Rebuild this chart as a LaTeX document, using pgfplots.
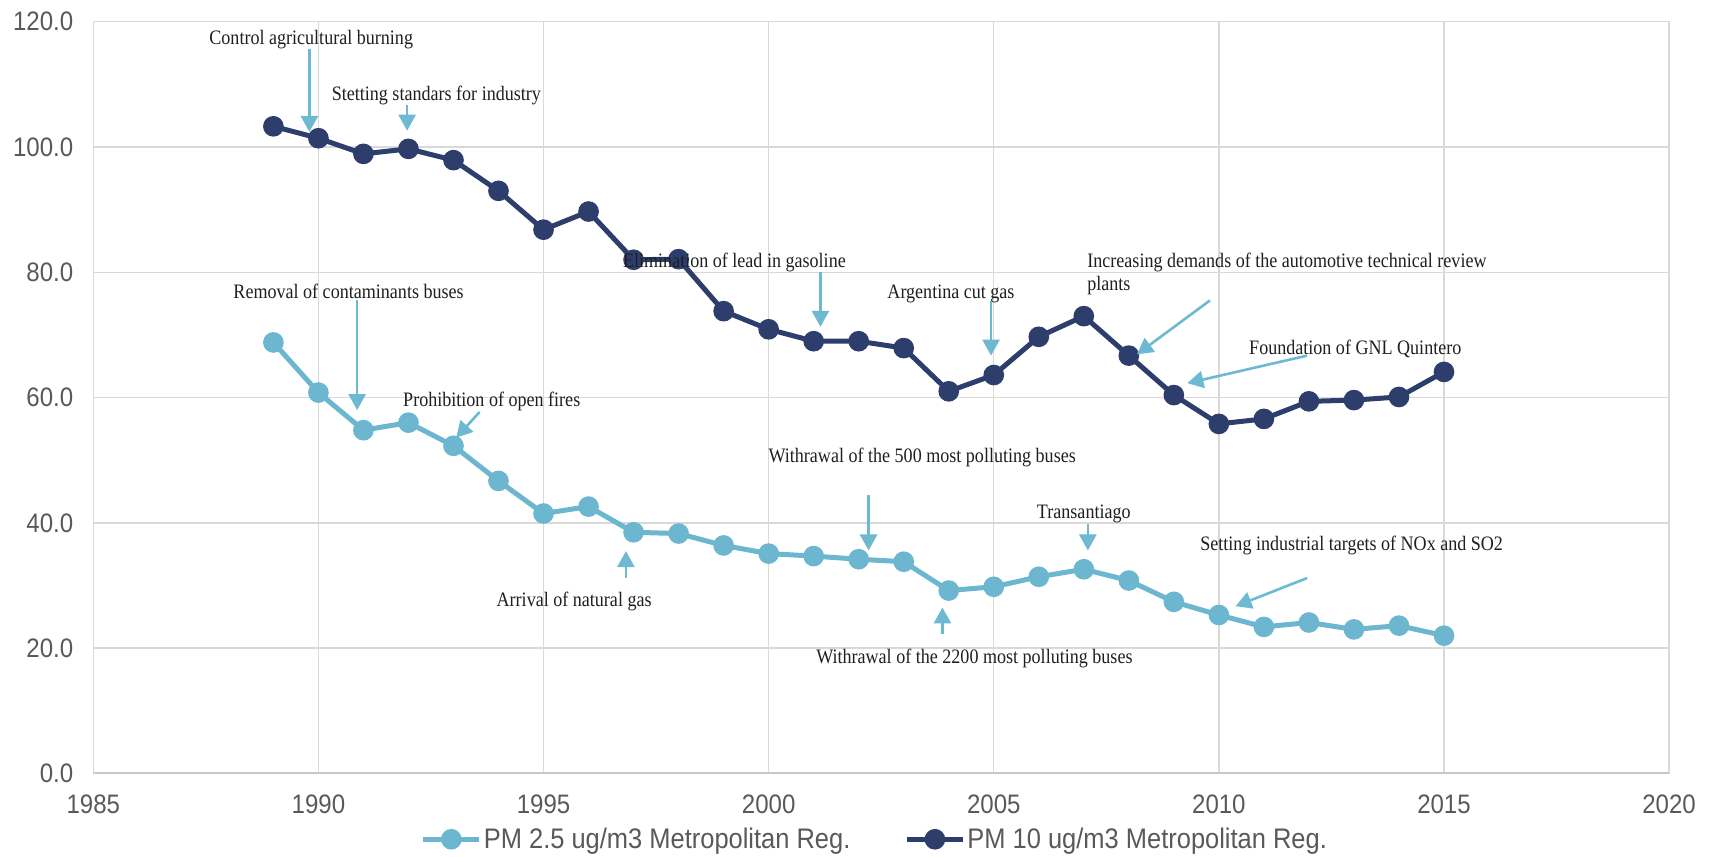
\documentclass[border=0pt]{standalone}
\usepackage{fontspec}
\usepackage{pgfplots}
\usepackage{pgfplotstable}
\pgfplotsset{compat=1.18}
\usetikzlibrary{arrows.meta}

\newfontfamily\annfont[FakeStretch=0.88]{Liberation Serif}
\newfontfamily\tickfont[FakeStretch=0.9]{Liberation Sans}

\definecolor{pmdark}{HTML}{2D3E6D}
\definecolor{pmlight}{HTML}{6CB7CF}
\definecolor{arrowblue}{HTML}{6CB9D1}
\definecolor{gridgray}{HTML}{D9D9D9}
\definecolor{labelgray}{HTML}{595959}
\definecolor{anntext}{HTML}{1F1F1F}

% annual means, ug/m3
\pgfplotstableread{
year pm25 pm10
1989 68.8 103.3
1990 60.8 101.4
1991 54.8 98.9
1992 56.0 99.7
1993 52.3 97.9
1994 46.7 93.0
1995 41.5 86.8
1996 42.6 89.7
1997 38.5 82.0
1998 38.3 82.1
1999 36.4 73.8
2000 35.1 70.9
2001 34.7 69.0
2002 34.2 69.0
2003 33.8 67.9
2004 29.2 61.0
2005 29.8 63.6
2006 31.4 69.7
2007 32.6 73.0
2008 30.8 66.7
2009 27.4 60.4
2010 25.3 55.8
2011 23.4 56.6
2012 24.1 59.4
2013 23.0 59.6
2014 23.6 60.1
2015 22.0 64.1
}\pmdata

\begin{document}
\begin{tikzpicture}[
    ann/.style={font=\annfont\fontsize{10.3}{11.5}\selectfont, text=anntext, inner sep=0pt},
    arr/.style={draw=arrowblue, line width=1.3bp, -{Triangle[length=8bp,width=8.5bp]}}
]
% page frame
\path (0,0) rectangle (854.5bp,428.5bp);
\begin{axis}[
    set layers,
    at={(46.65bp,41.75bp)}, anchor=south west,
    scale only axis, width=787.9bp, height=375.9bp,
    xmin=1985, xmax=2020, ymin=0, ymax=120,
    xtick={1985,1990,...,2020}, ytick={0,20,...,120},
    grid=major,
    major grid style={draw=gridgray, line width=0.7bp},
    axis line style={draw=gridgray, line width=0.7bp},
    tick style={draw=none},
    /pgf/number format/assume math mode=true,
    ticklabel style={font=\tickfont\fontsize{13.4}{15}\selectfont, text=labelgray},
    xticklabel style={yshift=-7bp, /pgf/number format/1000 sep={}},
    yticklabel style={xshift=-6.5bp, /pgf/number format/.cd, fixed, fixed zerofill, precision=1},
    legend columns=2,
    legend style={at={(axis description cs:0.496,-0.0875)}, anchor=center,
        draw=none, fill=none, inner sep=0pt,
        font=\tickfont\fontsize{14.2}{16}\selectfont, text=labelgray,
        nodes={inner sep=1bp},
        /tikz/every even column/.append style={column sep=26bp}},
    legend image code/.code={
        \draw[mark repeat=2, mark phase=2] plot coordinates {(0bp,0bp) (14bp,0bp) (28bp,0bp)};
    },
]
\addplot[pmlight, line width=2.5bp, mark=*, mark size=3.9bp,
    mark options={solid, fill=pmlight, draw=pmlight}]
    table[x=year, y=pm25] {\pmdata};
\addlegendentry{PM 2.5 ug/m3 Metropolitan Reg.}
\addplot[pmdark, line width=2.5bp, mark=*, mark size=3.9bp,
    mark options={solid, fill=pmdark, draw=pmdark}]
    table[x=year, y=pm10] {\pmdata};
\addlegendentry{PM 10 ug/m3 Metropolitan Reg.}

% darker base line
\draw[draw=gridgray!80!gray, line width=1.6bp] (rel axis cs:0,0) -- (rel axis cs:1,0);

% annotations, kept above the markers
\begin{pgfonlayer}{axis foreground}
\node[ann] at (1989.84,117.1) {Control agricultural burning};
\draw[arr] (1989.8,115.7) -- (1989.8,102.4);
\node[ann] at (1992.62,108.2) {Stetting standars for industry};
\draw[arr] (1991.97,106.7) -- (1991.97,102.6);
\node[ann] at (1990.67,77.0) {Removal of contaminants buses};
\draw[arr] (1990.86,75.6) -- (1990.86,58.0);
\node[ann] at (1993.85,59.4) {Prohibition of open fires};
\draw[arr] (1993.58,57.7) -- (1993.06,53.6);
\node[ann] at (1999.24,81.5) {Elimination of lead in gasoline};
\draw[arr] (2001.15,80.0) -- (2001.15,71.3);
\node[ann] at (2004.05,76.6) {Argentina cut gas};
\draw[arr] (2004.94,75.4) -- (2004.94,66.7);
\node[ann, anchor=west, align=left] at (2007.07,79.7) {Increasing demands of the automotive technical review\\plants};
\draw[arr] (2009.8,75.5) -- (2008.18,66.9);
\node[ann] at (2013.03,67.7) {Foundation of GNL Quintero};
\draw[arr] (2011.96,66.7) -- (2009.3,62.3);
\node[ann] at (2003.41,50.5) {Withrawal of the 500 most polluting buses};
\draw[arr] (2002.22,44.4) -- (2002.22,35.6);
\node[ann] at (2007.0,41.5) {Transantiago};
\draw[arr] (2007.09,39.8) -- (2007.09,35.6);
\node[ann] at (2012.95,36.4) {Setting industrial targets of NOx and SO2};
\draw[arr] (2011.96,31.2) -- (2010.37,26.7);
\node[ann] at (1995.68,27.4) {Arrival of natural gas};
\draw[arr] (1996.83,31.2) -- (1996.83,35.5);
\node[ann] at (2004.57,18.4) {Withrawal of the 2200 most polluting buses};
\draw[arr] (2003.86,22.2) -- (2003.86,26.5);
\end{pgfonlayer}
\end{axis}
\end{tikzpicture}
\end{document}
